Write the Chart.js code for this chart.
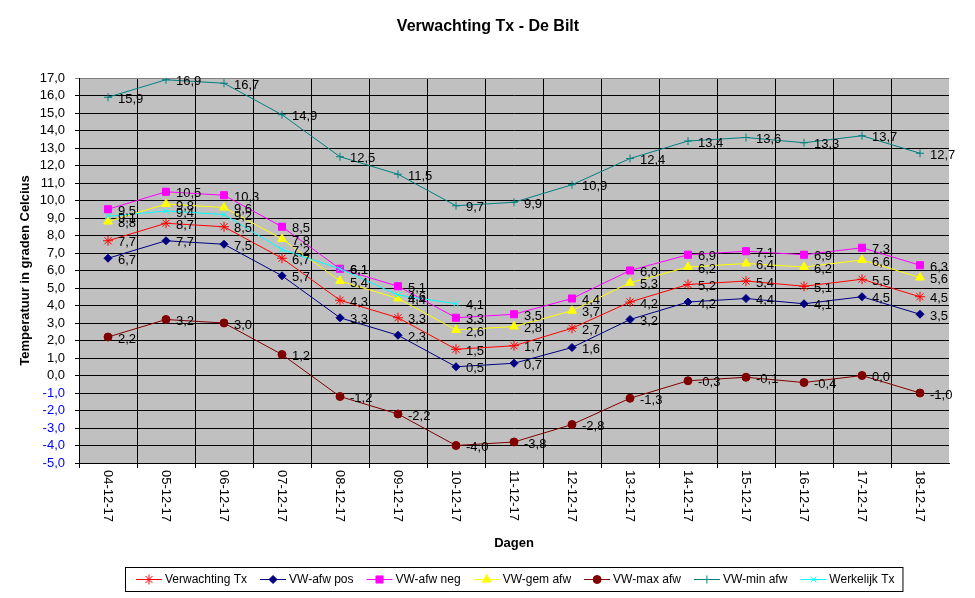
<!DOCTYPE html>
<html>
<head>
<meta charset="utf-8">
<script src="https://cdn.jsdelivr.net/npm/chart.js@4.4.1/dist/chart.umd.min.js"></script>
<style>
	body { margin: 0; background: #fff; }
	#wrap { width: 975px; height: 598px; }
</style>
</head>
<body>
<div id="wrap"><canvas id="canvas" width="975" height="598"></canvas></div>
<script type="text/javascript">

var FONT = 'Arial, "Liberation Sans", sans-serif';

// data
var dagen = ['04-12-17', '05-12-17', '06-12-17', '07-12-17', '08-12-17', '09-12-17', '10-12-17', '11-12-17',
	'12-12-17', '13-12-17', '14-12-17', '15-12-17', '16-12-17', '17-12-17', '18-12-17'];
var verwachtingTx = [7.7, 8.7, 8.5, 6.7, 4.3, 3.3, 1.5, 1.7, 2.7, 4.2, 5.2, 5.4, 5.1, 5.5, 4.5];
var vwAfwPos      = [6.7, 7.7, 7.5, 5.7, 3.3, 2.3, 0.5, 0.7, 1.6, 3.2, 4.2, 4.4, 4.1, 4.5, 3.5];
var vwAfwNeg      = [9.5, 10.5, 10.3, 8.5, 6.1, 5.1, 3.3, 3.5, 4.4, 6.0, 6.9, 7.1, 6.9, 7.3, 6.3];
var vwGemAfw      = [8.8, 9.8, 9.6, 7.8, 5.4, 4.4, 2.6, 2.8, 3.7, 5.3, 6.2, 6.4, 6.2, 6.6, 5.6];
var vwMaxAfw      = [2.2, 3.2, 3.0, 1.2, -1.2, -2.2, -4.0, -3.8, -2.8, -1.3, -0.3, -0.1, -0.4, 0.0, -1.0];
var vwMinAfw      = [15.9, 16.9, 16.7, 14.9, 12.5, 11.5, 9.7, 9.9, 10.9, 12.4, 13.4, 13.6, 13.3, 13.7, 12.7];
var werkelijkTx   = [9.1, 9.4, 9.2, 7.2, 6.1, 4.6, 4.1, null, null, null, null, null, null, null, null];
var yMin = -5, yMax = 17, yStap = 1;

function komma(v) {
	return v.toFixed(1).replace('.', ',');
}

function serie(label, data, kleur, stijl, r, nr) {
	return {
		label: label, data: data,
		borderColor: kleur, backgroundColor: kleur,
		pointBorderColor: kleur, pointBackgroundColor: kleur,
		pointStyle: stijl, pointRadius: r, pointBorderWidth: 1,
		borderWidth: 1, tension: 0, fill: false, spanGaps: false,
		order: 10 - nr
	};
}

// grey plot area
var achtergrond = {
	id: 'achtergrond',
	beforeDraw: function(chart) {
		var a = chart.chartArea, ctx = chart.ctx;
		ctx.save();
		ctx.fillStyle = '#C0C0C0';
		ctx.fillRect(a.left, a.top, a.right - a.left, a.bottom - a.top);
		ctx.restore();
	}
};

// value next to each point
var waarden = {
	id: 'waarden',
	afterDatasetsDraw: function(chart) {
		var ctx = chart.ctx;
		ctx.save();
		ctx.font = '13px ' + FONT;
		ctx.fillStyle = '#000';
		ctx.textAlign = 'left';
		ctx.textBaseline = 'middle';
		chart.data.datasets.forEach(function(ds, i) {
			var meta = chart.getDatasetMeta(i);
			meta.data.forEach(function(pt, j) {
				var v = ds.data[j];
				if (v === null || v === undefined) return;
				ctx.fillText(komma(v), pt.x + 10, pt.y + 2);
			});
		});
		ctx.restore();
	}
};

// title, rotated day labels and the legend box
var extra = {
	id: 'extra',
	afterDraw: function(chart) {
		var ctx = chart.ctx, xs = chart.scales.x, a = chart.chartArea;
		ctx.save();

		ctx.fillStyle = '#000';
		ctx.font = 'bold 16px ' + FONT;
		ctx.textAlign = 'center';
		ctx.textBaseline = 'middle';
		ctx.fillText('Verwachting Tx - De Bilt', 488, 27);

		ctx.font = '13px ' + FONT;
		ctx.textAlign = 'left';
		chart.data.labels.forEach(function(d, i) {
			var x = xs.getPixelForValue(i);
			ctx.save();
			ctx.translate(x, xs.top + 7);
			ctx.rotate(Math.PI / 2);
			ctx.fillText(d, 0, 0);
			ctx.restore();
		});

		// legend
		ctx.font = '12px ' + FONT;
		var sets = chart.data.datasets;
		var lijn = 26, gat = 3, tussen = 13, padL = 11, padR = 8;
		var breed = padL + padR;
		sets.forEach(function(ds, i) {
			breed += lijn + gat + ctx.measureText(ds.label).width;
			if (i < sets.length - 1) breed += tussen;
		});
		var midden = (a.left + a.right) / 2;
		var x0 = Math.round(midden - breed / 2), y0 = 567, h = 24, ym = y0 + h / 2;
		ctx.fillStyle = '#fff';
		ctx.fillRect(x0, y0, breed, h);
		ctx.strokeStyle = '#000';
		ctx.lineWidth = 1;
		ctx.strokeRect(x0 + 0.5, y0 + 0.5, breed, h);
		var x = x0 + padL;
		sets.forEach(function(ds) {
			ctx.strokeStyle = ds.borderColor;
			ctx.fillStyle = ds.backgroundColor;
			ctx.lineWidth = 1;
			ctx.beginPath();
			ctx.moveTo(x, ym + 0.5);
			ctx.lineTo(x + lijn, ym + 0.5);
			ctx.stroke();
			if (Chart.helpers && Chart.helpers.drawPoint) {
				Chart.helpers.drawPoint(ctx, {pointStyle: ds.pointStyle, radius: ds.pointRadius, rotation: 0, borderWidth: 1}, x + lijn / 2, ym + 0.5);
			}
			x += lijn + gat;
			ctx.fillStyle = '#000';
			ctx.textAlign = 'left';
			ctx.textBaseline = 'middle';
			ctx.fillText(ds.label, x, ym + 1);
			x += ctx.measureText(ds.label).width + tussen;
		});
		ctx.restore();
	}
};

var ctx = document.getElementById('canvas').getContext('2d');
var chart = new Chart(ctx, {
	type: 'line',
	data: {
		labels: dagen,
		datasets: [
			serie('Verwachting Tx', verwachtingTx, '#FF0000', 'star', 5, 0),
			serie('VW-afw pos', vwAfwPos, '#000080', 'rectRot', 4, 1),
			serie('VW-afw neg', vwAfwNeg, '#FF00FF', 'rect', 5, 2),
			serie('VW-gem afw', vwGemAfw, '#FFFF00', 'triangle', 5, 3),
			serie('VW-max afw', vwMaxAfw, '#800000', 'circle', 4, 4),
			serie('VW-min afw', vwMinAfw, '#008080', 'cross', 4, 5),
			serie('Werkelijk Tx', werkelijkTx, '#00FFFF', 'crossRot', 4, 6)
		]
	},
	options: {
		responsive: false,
		animation: false,
		events: [],
		layout: { padding: { left: 0, right: 26, top: 78, bottom: 0 }, autoPadding: false },
		plugins: {
			legend: { display: false },
			tooltip: { enabled: false },
			title: { display: false }
		},
		scales: {
			x: {
				type: 'category',
				offset: true,
				grid: {
					offset: true,
					color: function(c) { return c.type === 'scale' ? 'rgba(0,0,0,0)' : '#000'; },
					lineWidth: 1,
					tickLength: 5
				},
				border: { color: '#000' },
				ticks: { display: false },
				title: {
					display: true, text: 'Dagen', color: '#000',
					font: { family: FONT, size: 13, weight: 'bold' },
					padding: { top: 0, bottom: 47 }
				},
				afterFit: function(s) { s.height = 135; }
			},
			y: {
				min: yMin, max: yMax,
				ticks: {
					stepSize: yStap, maxTicksLimit: 40, autoSkip: false, padding: 10,
					font: { family: FONT, size: 13 },
					color: function(c) { return c.tick && c.tick.value < 0 ? '#0000FF' : '#000'; },
					callback: function(v) { return komma(v); }
				},
				grid: {
					color: function(c) { return c.tick && c.tick.value === yMax ? '#808080' : '#000'; },
					lineWidth: 1,
					tickLength: 4
				},
				border: { color: '#000' },
				title: {
					display: true, text: 'Temperatuur in graden Celcius', color: '#000',
					font: { family: FONT, size: 13, weight: 'bold' },
					padding: { top: 18, bottom: 0 }
				},
				afterFit: function(s) { s.width = 79; }
			}
		}
	},
	plugins: [achtergrond, waarden, extra]
});

</script>
</body>
</html>
